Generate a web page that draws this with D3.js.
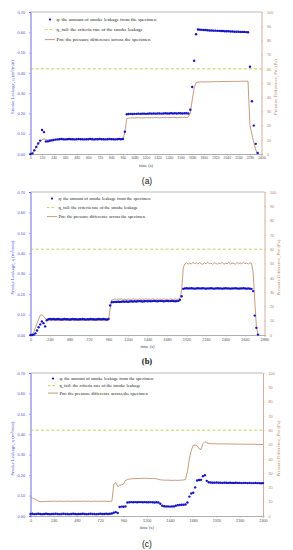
<!DOCTYPE html>
<html>
<head>
<meta charset="utf-8">
<script src="https://cdnjs.cloudflare.com/ajax/libs/d3/7.8.5/d3.min.js"></script>
<style>
  body { margin: 0; background: #fff; }
  svg { display: block; }
</style>
</head>
<body>
<div id="chart"></div>
<script>
// sampling interval of the logged values (s)
const step = 20;

// (a) smoke leakage q (m3/min), one value every 20 s from t = 0
const qA = [
  0.000, 0.003, 0.018, 0.035, 0.052, 0.066, 0.118, 0.108, 0.062, 0.062,
  0.065, 0.067, 0.069, 0.071, 0.072,
  0.073, 0.074, 0.073, 0.072, 0.073, 0.074, 0.073, 0.073, 0.072, 0.073,
  0.074, 0.073, 0.073, 0.072, 0.073, 0.073, 0.074, 0.073, 0.072, 0.073,
  0.073, 0.074, 0.073, 0.073, 0.072, 0.073, 0.074, 0.073, 0.073, 0.072,
  0.073, 0.074, 0.073, 0.074,
  0.110, 0.196,
  0.197, 0.198, 0.197, 0.198, 0.198, 0.199, 0.198, 0.199, 0.199, 0.198,
  0.199, 0.200, 0.199, 0.200, 0.199, 0.200, 0.200, 0.199, 0.200, 0.201,
  0.200, 0.200, 0.201, 0.200, 0.201, 0.200, 0.201, 0.201, 0.200, 0.201,
  0.201, 0.200,
  0.218, 0.330, 0.460, 0.590, 0.614, 0.613,
  0.612, 0.611, 0.611, 0.610, 0.609, 0.609, 0.608, 0.608, 0.607, 0.607,
  0.606, 0.606, 0.605, 0.605, 0.605, 0.604, 0.604, 0.603, 0.603, 0.603,
  0.602, 0.602, 0.602, 0.601,
  0.600, 0.430, 0.260, 0.140, 0.050, 0.005
];
// (a) pressure difference Pm (Pa)
const pA = [
  0, 0.5, 2.5, 5, 7.2, 8.8, 10, 10.6, 10.2, 9.9,
  10, 10.1, 10.2, 10.3, 10.3,
  10.4, 10.5, 10.4, 10.3, 10.4, 10.5, 10.4, 10.4, 10.3, 10.4,
  10.5, 10.4, 10.4, 10.3, 10.4, 10.4, 10.5, 10.4, 10.3, 10.4,
  10.4, 10.5, 10.4, 10.4, 10.3, 10.4, 10.5, 10.4, 10.4, 10.3,
  10.4, 10.5, 10.4, 10.5,
  15, 25,
  25.3, 25.4, 25.5, 25.4, 25.5, 25.6, 25.5, 25.4, 25.5, 25.6,
  25.5, 25.6, 25.5, 25.6, 25.7, 25.6, 25.5, 25.6, 25.7, 25.6,
  25.7, 25.6, 25.7, 25.8, 25.7, 25.6, 25.7, 25.8, 25.7, 25.8,
  25.7, 26.0,
  28.5, 38, 46.5, 50.2, 50.6, 50.7,
  50.8, 50.7, 50.8, 50.9, 50.8, 50.9, 51.0, 50.9, 51.0, 50.9,
  51.0, 51.1, 51.0, 51.1, 51.0, 51.1, 51.2, 51.1, 51.2, 51.1,
  51.2, 51.3, 51.2, 51.3,
  51.3, 20, 14, 8, 3, 0
];

// (b)
const qB = [
  0.000, 0.000, 0.002, 0.008, 0.022, 0.038, 0.052, 0.066, 0.058, 0.042,
  0.072, 0.077,
  0.078, 0.077, 0.078, 0.077, 0.077, 0.078, 0.077, 0.076, 0.077, 0.078,
  0.077, 0.077, 0.076, 0.077, 0.078, 0.077, 0.077, 0.076, 0.077, 0.077,
  0.078, 0.077, 0.076, 0.077, 0.077, 0.078, 0.077, 0.077, 0.076, 0.077,
  0.078, 0.077, 0.077, 0.078, 0.077, 0.076, 0.078,
  0.145, 0.160,
  0.161, 0.162, 0.162, 0.163, 0.162, 0.163, 0.164, 0.163, 0.164, 0.163,
  0.164, 0.165, 0.164, 0.165, 0.164, 0.165, 0.166, 0.165, 0.164, 0.165,
  0.166, 0.165, 0.166, 0.165, 0.166, 0.167, 0.166, 0.165, 0.166, 0.167,
  0.166, 0.165, 0.166, 0.167, 0.166, 0.166, 0.167, 0.166, 0.165, 0.166,
  0.167, 0.172,
  0.190, 0.226,
  0.228, 0.229, 0.228, 0.228, 0.229, 0.228, 0.227, 0.228, 0.229, 0.228,
  0.228, 0.229, 0.228, 0.227, 0.228, 0.228, 0.229, 0.228, 0.227, 0.228,
  0.229, 0.228, 0.228, 0.227, 0.228, 0.229, 0.228, 0.228, 0.227, 0.228,
  0.228, 0.229, 0.228, 0.227, 0.228, 0.228, 0.229, 0.228, 0.227, 0.228,
  0.227, 0.226,
  0.215, 0.095, 0.035, 0.002
];
const pB = [
  0, 0.5, 2, 5, 8, 11, 13.8, 14.2, 13, 11.6,
  11, 10.5,
  10.3, 10.0, 10.4, 10.1, 10.3, 9.9, 10.2, 10.4, 10.0, 10.3,
  10.1, 10.4, 10.0, 10.2, 10.3, 9.9, 10.2, 10.4, 10.1, 10.3,
  10.0, 10.3, 10.2, 10.4, 10.0, 10.2, 10.3, 10.1, 10.4, 10.0,
  10.3, 10.2, 10.4, 10.1, 10.3, 10.0, 10.4,
  18, 24.5,
  24.8, 25.3, 24.7, 25.2, 24.9, 25.4, 24.8, 25.1, 24.7, 25.3,
  25.0, 24.8, 25.4, 24.9, 25.2, 24.7, 25.3, 24.9, 25.1, 24.8,
  25.4, 24.9, 25.2, 24.8, 25.3, 25.0, 24.7, 25.3, 24.9, 25.2,
  24.8, 25.4, 24.9, 25.1, 24.7, 25.3, 25.0, 24.8, 25.3, 24.9,
  25.2, 25.6,
  31, 47,
  49.8, 50.6, 49.5, 50.3, 49.7, 50.8, 49.9, 50.4, 49.6, 50.7,
  50.0, 49.4, 50.5, 49.8, 50.9, 49.7, 50.3, 49.5, 50.6, 50.0,
  49.6, 50.4, 49.9, 50.8, 49.5, 50.2, 49.8, 50.7, 49.6, 50.3,
  50.0, 49.5, 50.6, 49.8, 50.4, 49.7, 50.8, 49.9, 50.3, 49.6,
  50.5, 50.1,
  44, 24, 6, 0
];

// (c)
const qC = [
  0.010, 0.011, 0.009, 0.010, 0.011, 0.010, 0.009, 0.010, 0.011, 0.010,
  0.009, 0.010, 0.010, 0.011, 0.010, 0.009, 0.010, 0.011, 0.010, 0.010,
  0.009, 0.010, 0.011, 0.010, 0.009, 0.010, 0.010, 0.011, 0.010, 0.009,
  0.010, 0.011, 0.010, 0.010, 0.009, 0.010, 0.011, 0.010, 0.010, 0.011,
  0.010, 0.011, 0.012,
  0.016, 0.019, 0.015, 0.044, 0.046, 0.045, 0.047,
  0.066, 0.067, 0.068, 0.067, 0.068, 0.067, 0.068, 0.068, 0.067, 0.068,
  0.067, 0.067, 0.068, 0.067, 0.066, 0.067, 0.066,
  0.060, 0.050,
  0.048, 0.047, 0.047, 0.046, 0.047, 0.047,
  0.050, 0.053, 0.054, 0.055, 0.055, 0.056, 0.066, 0.095, 0.110, 0.114,
  0.140, 0.174, 0.176, 0.177, 0.195, 0.200, 0.172, 0.165,
  0.164, 0.163, 0.163, 0.164, 0.163, 0.163, 0.162, 0.163, 0.163, 0.162,
  0.163, 0.162, 0.162, 0.163, 0.162, 0.162, 0.161, 0.162, 0.162, 0.161,
  0.162, 0.161, 0.161, 0.162, 0.161, 0.161, 0.160, 0.161
];
const pC = [
  13.0, 12.5, 12.0, 11.2, 10.5, 10.1, 10.0, 10.2, 10.1, 10.3,
  10.2, 10.3, 10.4, 10.3, 10.2, 10.4, 10.3, 10.2, 10.3, 10.4,
  10.3, 10.2, 10.3, 10.4, 10.3, 10.3, 10.2, 10.4, 10.3, 10.3,
  10.4, 10.2, 10.3, 10.4, 10.3, 10.2, 10.3, 10.3, 10.4, 10.3,
  10.2, 10.3, 10.3,
  22.0, 23.5, 20.5, 21.5, 21.8, 22.3, 24.8,
  25.5, 25.8, 26.0, 26.1, 26.2, 26.3, 26.2, 26.3, 26.4, 26.3,
  26.4, 26.3, 26.2, 26.3, 26.2, 26.0, 25.6,
  25.3, 25.2,
  25.1, 25.0, 25.1, 25.0, 24.9, 25.0,
  25.0, 24.9, 25.0, 25.1, 25.2, 25.6, 31.0, 40.0, 46.0, 49.5,
  49.6, 49.2, 47.0, 46.5, 50.5, 52.0, 51.2, 50.7,
  50.6, 50.5, 50.6, 50.5, 50.4, 50.5, 50.4, 50.5, 50.4, 50.3,
  50.4, 50.3, 50.4, 50.3, 50.2, 50.3, 50.2, 50.3, 50.2, 50.1,
  50.2, 50.1, 50.2, 50.1, 50.0, 50.1, 50.0, 50.0
];

// criteria rate of smoke leakage
const qFail = 0.42;

// axis tick labels
const xTicksA = [0, 120, 240, 360, 480, 600, 720, 840, 960, 1080, 1200, 1320, 1440, 1560, 1680, 1800, 1920, 2040, 2160, 2280, 2400];
const xTicksB = [0, 240, 480, 720, 960, 1200, 1440, 1680, 1920, 2160, 2400, 2640, 2880];
const xTicksC = [0, 240, 480, 720, 960, 1200, 1440, 1680, 1920, 2160, 2400];
const qTicks = [0, 0.1, 0.2, 0.3, 0.4, 0.5, 0.6, 0.7];
const pTicks = [0, 10, 20, 30, 40, 50, 60, 70, 80, 90, 100];

const legendLabels = [
  "q: the amount of smoke leakage from the specimen",
  "q_fail: the criteria rate of the smoke leakage",
  "Pm: the pressure difference across the specimen"
];

const blue = "#1414c4";
const brown = "#b8825e";
const green = "#b2c43a";

let width = 293;
let height = 550;

let svg = d3.select("#chart")
  .append("svg")
  .attr("width", width)
  .attr("height", height);

/** one panel per test */
const panels = [
  { q: qA, p: pA, xMax: 2400, xTicks: xTicksA, tickFont: 3.4,
    left: 30.5, right: 261.5, top: 12, bottom: 154,
    legX: 50, legY: [21, 31, 41], legFont: 4.9,
    tag: "(a)", tagY: 184, tagFont: "Liberation Sans", tagWeight: "normal", rightTitleX: 277 },
  { q: qB, p: pB, xMax: 2880, xTicks: xTicksB, tickFont: 3.8,
    left: 30.5, right: 264.5, top: 192, bottom: 335,
    legX: 52, legY: [200, 209, 218], legFont: 4.5,
    tag: "(b)", tagY: 364, tagFont: "Liberation Serif", tagWeight: "bold", rightTitleX: 280 },
  { q: qC, p: pC, xMax: 2400, xTicks: xTicksC, tickFont: 3.8,
    left: 30.5, right: 263, top: 373, bottom: 516,
    legX: 53, legY: [380, 387, 394.5], legFont: 4.6,
    tag: "(c)", tagY: 547, tagFont: "Liberation Sans", tagWeight: "normal", rightTitleX: 280 }
];

panels.forEach(drawPanel);

function drawPanel(cfg) {
  const g = svg.append("g");

  const x = d3.scaleLinear().domain([0, cfg.xMax]).range([cfg.left, cfg.right]);
  const yq = d3.scaleLinear().domain([0, 0.7]).range([cfg.bottom, cfg.top]);
  const yp = d3.scaleLinear().domain([0, 100]).range([cfg.bottom, cfg.top]);

  // frame
  g.append("line")
    .attr("x1", cfg.left).attr("x2", cfg.right)
    .attr("y1", cfg.top).attr("y2", cfg.top)
    .attr("stroke", "#a8a8a8").attr("stroke-width", 0.8);

  // bottom axis
  const xAxis = g.append("g")
    .attr("transform", `translate(0,${cfg.bottom})`)
    .call(d3.axisBottom(x).tickValues(cfg.xTicks).tickFormat(d3.format("d")).tickSize(1.5).tickPadding(1.5));
  xAxis.select(".domain").attr("stroke", "#9a9a9a").attr("stroke-width", 0.8);
  xAxis.selectAll(".tick line").attr("stroke", "#9a9a9a").attr("stroke-width", 0.5);
  xAxis.selectAll(".tick text")
    .attr("fill", "#555")
    .style("font-family", "Liberation Sans, Arial, sans-serif")
    .style("font-size", cfg.tickFont + "px");

  // left axis, leakage
  const yAxisL = g.append("g")
    .attr("transform", `translate(${cfg.left},0)`)
    .call(d3.axisLeft(yq).tickValues(qTicks).tickFormat(d3.format(".2f")).tickSize(1.5).tickPadding(4));
  yAxisL.select(".domain").attr("stroke", "#5c5ce0").attr("stroke-width", 0.9);
  yAxisL.selectAll(".tick line").attr("stroke", "#5c5ce0").attr("stroke-width", 0.5);
  yAxisL.selectAll(".tick text")
    .attr("fill", "#4a4acc")
    .style("font-family", "Liberation Sans, Arial, sans-serif")
    .style("font-size", "3.8px");

  // right axis, pressure
  const yAxisR = g.append("g")
    .attr("transform", `translate(${cfg.right},0)`)
    .call(d3.axisRight(yp).tickValues(pTicks).tickFormat(d3.format("d")).tickSize(1.5).tickPadding(4));
  yAxisR.select(".domain").attr("stroke", "#cfa596").attr("stroke-width", 0.9);
  yAxisR.selectAll(".tick line").attr("stroke", "#cfa596").attr("stroke-width", 0.5);
  yAxisR.selectAll(".tick text")
    .attr("fill", "#b77f68")
    .style("font-family", "Liberation Sans, Arial, sans-serif")
    .style("font-size", "3.8px");

  // axis titles
  const midY = (cfg.top + cfg.bottom) / 2;
  g.append("text")
    .attr("transform", `translate(13.5,${midY + 4}) rotate(-90)`)
    .attr("text-anchor", "middle")
    .attr("fill", "#4646d6")
    .style("font-family", "Liberation Serif, Times New Roman, serif")
    .style("font-size", "4.8px")
    .text("Smoke Leakage, q (m³/min)");

  g.append("text")
    .attr("transform", `translate(${cfg.rightTitleX},${midY + 4}) rotate(-90)`)
    .attr("text-anchor", "middle")
    .attr("fill", "#bd8466")
    .style("font-family", "Liberation Serif, Times New Roman, serif")
    .style("font-size", "4.8px")
    .text("Pressure Difference, Pm (Pa)");

  g.append("text")
    .attr("x", (cfg.left + cfg.right) / 2)
    .attr("y", cfg.bottom + 12.5)
    .attr("text-anchor", "middle")
    .attr("fill", "#2d4a66")
    .style("font-family", "Liberation Serif, Times New Roman, serif")
    .style("font-size", "4.6px")
    .text("time (s)");

  // criteria line
  g.append("line")
    .attr("x1", cfg.left).attr("x2", cfg.right)
    .attr("y1", yq(qFail)).attr("y2", yq(qFail))
    .attr("stroke", green)
    .attr("stroke-width", 0.8)
    .attr("stroke-dasharray", "3,2.2");

  // pressure line
  const line = d3.line()
    .x((d, i) => x(i * step))
    .y(d => yp(d));

  g.append("path")
    .datum(cfg.p)
    .attr("fill", "none")
    .attr("stroke", brown)
    .attr("stroke-width", 0.8)
    .attr("d", line);

  // leakage dots
  g.selectAll(".dot")
    .data(cfg.q)
    .enter()
    .append("circle")
    .attr("class", "dot")
    .attr("cx", (d, i) => x(i * step))
    .attr("cy", d => yq(d))
    .attr("r", 1.2)
    .attr("fill", blue);

  // legend
  const leg = g.append("g");
  leg.append("circle")
    .attr("cx", cfg.legX).attr("cy", cfg.legY[0] - 1.4)
    .attr("r", 1.1).attr("fill", blue);
  leg.append("line")
    .attr("x1", cfg.legX - 5).attr("x2", cfg.legX + 4)
    .attr("y1", cfg.legY[1] - 1.4).attr("y2", cfg.legY[1] - 1.4)
    .attr("stroke", green).attr("stroke-width", 0.8)
    .attr("stroke-dasharray", "2.5,2");
  leg.append("line")
    .attr("x1", cfg.legX - 5).attr("x2", cfg.legX + 5)
    .attr("y1", cfg.legY[2] - 1.4).attr("y2", cfg.legY[2] - 1.4)
    .attr("stroke", brown).attr("stroke-width", 0.8);

  leg.selectAll(".lab")
    .data(legendLabels)
    .enter()
    .append("text")
    .attr("class", "lab")
    .attr("x", cfg.legX + 6.5)
    .attr("y", (d, i) => cfg.legY[i])
    .attr("fill", "#222")
    .style("font-family", "Liberation Serif, Times New Roman, serif")
    .style("font-size", cfg.legFont + "px")
    .text(d => d);

  // panel tag
  g.append("text")
    .attr("x", 147)
    .attr("y", cfg.tagY)
    .attr("text-anchor", "middle")
    .attr("fill", "#111")
    .style("font-family", cfg.tagFont)
    .style("font-weight", cfg.tagWeight)
    .style("font-size", "8.5px")
    .text(cfg.tag);
}
</script>
</body>
</html>
